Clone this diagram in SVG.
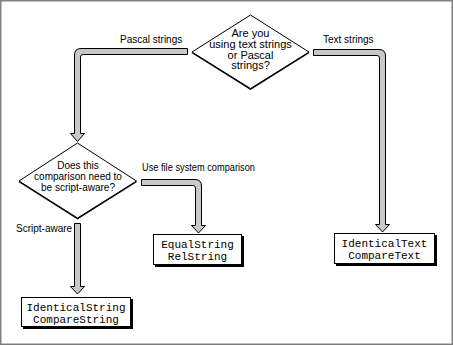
<svg xmlns="http://www.w3.org/2000/svg" width="453" height="346" viewBox="0 0 453 346">
<style>
.lbl{font-family:"Liberation Sans",Arial,sans-serif;font-size:10px;fill:#000}
.dt{font-family:"Liberation Sans",Arial,sans-serif;font-size:11px;fill:#000;text-anchor:middle}
.dt2{font-family:"Liberation Sans",Arial,sans-serif;font-size:10px;fill:#000;text-anchor:middle}
.mono{font-family:"Liberation Mono","Courier New",monospace;font-size:11px;fill:#000;text-anchor:middle}
.dia{fill:#fff;stroke:#000;stroke-width:1}
.shd{fill:#000}
.box{fill:#fff;stroke:#000;stroke-width:1}
.arr{fill:#c8c8c8;stroke:#000;stroke-width:1;stroke-linejoin:miter}
</style>
<rect x="0.75" y="0.75" width="451.5" height="343.5" fill="#fff" stroke="#808080" stroke-width="1.5"/>
<g id="connectors">
<path class="arr" d="M187.5,48.5 L81,48.5 Q74.5,48.5 74.5,55 L74.5,133.5 L70.5,133.5 L77.5,141.5 L84.5,133.5 L80.5,133.5 L80.5,57 Q80.5,54.5 83,54.5 L187.5,54.5 Z"/>
<path class="arr" d="M313.5,49.5 L379,49.5 Q385.5,49.5 385.5,56 L385.5,224.5 L389.5,224.5 L382.5,232 L375.5,224.5 L379.5,224.5 L379.5,58 Q379.5,55.5 377,55.5 L313.5,55.5 Z"/>
<path class="arr" d="M141.5,179.5 L195,179.5 Q201.5,179.5 201.5,186 L201.5,225.5 L205.5,225.5 L198.5,233 L191.5,225.5 L195.5,225.5 L195.5,188 Q195.5,185.5 193,185.5 L141.5,185.5 Z"/>
<path class="arr" d="M74.5,223.5 L80.5,223.5 L80.5,286.5 L84.5,286.5 L77.5,294 L70.5,286.5 L74.5,286.5 Z"/>
<text class="lbl" x="120" y="43">Pascal strings</text>
<text class="lbl" x="323" y="43">Text strings</text>
<text class="lbl" x="142" y="171" textLength="113" lengthAdjust="spacingAndGlyphs">Use file system comparison</text>
<text class="lbl" x="16" y="232">Script-aware</text>
</g>
<g id="q1">
<polygon class="shd" points="250.5,16 309.5,53 250.5,90 191.5,53"/>
<polygon class="dia" points="250.5,15 309,52 250.5,88.5 192,52"/>
<text class="dt" x="250.5" y="36.5">Are you</text>
<text class="dt" x="250.5" y="47.5">using text strings</text>
<text class="dt" x="250.5" y="58.5">or Pascal</text>
<text class="dt" x="250.5" y="69">strings?</text>
</g>
<g id="q2">
<polygon class="shd" points="77.5,144 137,182 77.5,219.5 18.5,182"/>
<polygon class="dia" points="77.5,143 136.5,181 77.5,218 19,181"/>
<text class="dt2" x="78" y="169">Does this</text>
<text class="dt2" x="78" y="180">comparison need to</text>
<text class="dt2" x="78" y="190.5">be script-aware?</text>
</g>
<g id="equal">
<rect class="shd" x="155" y="236" width="89" height="31"/>
<rect class="box" x="153.5" y="234.5" width="88" height="30"/>
<text class="mono" x="197.5" y="248">EqualString</text>
<text class="mono" x="197.5" y="260">RelString</text>
</g>
<g id="identtext">
<rect class="shd" x="336" y="235" width="101" height="31"/>
<rect class="box" x="334.5" y="233.5" width="100" height="30"/>
<text class="mono" x="384.5" y="247">IdenticalText</text>
<text class="mono" x="384.5" y="259">CompareText</text>
</g>
<g id="identstring">
<rect class="shd" x="23" y="299" width="110" height="30"/>
<rect class="box" x="21.5" y="297.5" width="109" height="29"/>
<text class="mono" x="76" y="311">IdenticalString</text>
<text class="mono" x="76" y="323">CompareString</text>
</g>
</svg>
